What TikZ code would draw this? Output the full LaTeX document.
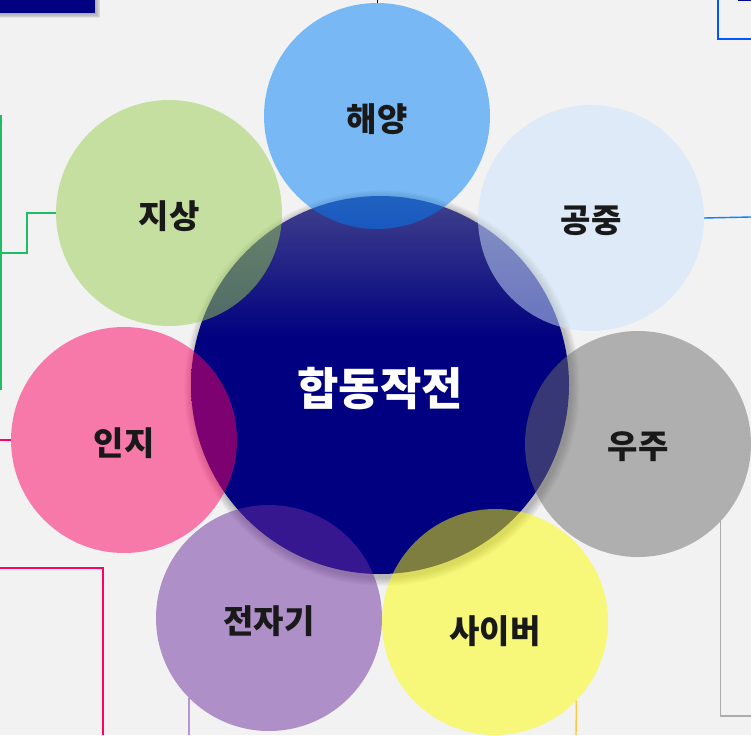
\documentclass[tikz,border=0pt]{standalone}
\usepackage{fontspec}
\newfontfamily\kr{Noto Sans CJK KR}
\definecolor{bg}{RGB}{242,242,242}
\definecolor{navyc}{RGB}{0,0,128}
\definecolor{navytop}{RGB}{66,66,140}
\definecolor{cblue}{RGB}{0,128,246}
\definecolor{clight}{RGB}{204,228,252}
\definecolor{cgreen}{RGB}{152,206,78}
\definecolor{cpink}{RGB}{252,2,100}
\definecolor{cpurple}{RGB}{110,46,158}
\definecolor{cyellow}{RGB}{252,252,2}
\definecolor{cgray}{RGB}{110,110,110}
\definecolor{lgreen}{RGB}{30,190,100}
\definecolor{lpink}{RGB}{255,0,102}
\definecolor{lblue}{RGB}{0,136,255}
\definecolor{lblue2}{RGB}{0,85,255}
\definecolor{lgray}{RGB}{172,172,172}
\definecolor{lpurple}{RGB}{150,100,200}
\definecolor{lyellow}{RGB}{255,200,60}
\pgfdeclareverticalshading{coreshade}{100bp}{color(0bp)=(navyc); color(56bp)=(navyc); color(75bp)=(navytop); color(100bp)=(navytop)}
\begin{document}
\begin{tikzpicture}[x=1pt,y=-1pt,
  petal/.style={circle,minimum size=226pt,inner sep=0pt,fill opacity=0.5},
  lbl/.style={font=\kr\bfseries\fontsize{33}{33}\selectfont,text=black!90,yshift=-3pt},
  link/.style={line width=1.4pt}]
\fill[bg] (0,0) rectangle (751,735);
\useasboundingbox (0,0) rectangle (751,735);
% top-left banner with shadow
\foreach \i in {1,...,6} \fill[black,opacity=0.05] (0,0) rectangle ({95+\i*0.9},{13+\i*0.9});
\node[fill=navyc,minimum width=95pt,minimum height=13pt,inner sep=0pt,anchor=north west] (banner) at (0,0) {};
% center shadow
\foreach \i in {1,...,8} \fill[black,opacity=0.03] (382,388) circle ({189+\i*1.1});
\node[circle,minimum size=378pt,inner sep=0pt,shading=coreshade] (core) at (380,385) {};
\node[font=\kr\bfseries\fontsize{45}{45}\selectfont,text=white] (coretext) at (380,389) {합동작전};
% petals
\node[petal,fill=cblue] (sea) at (377,116) {};
\node[petal,fill=clight] (air) at (591,218) {};
\node[petal,fill=cgray] (space) at (638,444) {};
\node[petal,fill=cyellow] (cyber) at (495,622) {};
\node[petal,fill=cpurple] (em) at (269,618) {};
\node[petal,fill=cpink] (cog) at (124,440) {};
\node[petal,fill=cgreen] (ground) at (169,213) {};
% labels
\node[lbl] (seaT) at (sea.center) {해양};
\node[lbl] (airT) at (air.center) {공중};
\node[lbl] (spaceT) at (space.center) {우주};
\node[lbl,yshift=-6pt] (cyberT) at (cyber.center) {사이버};
\node[lbl] (emT) at (em.center) {전자기};
\node[lbl] (cogT) at (cog.center) {인지};
\node[lbl] (groundT) at (ground.center) {지상};
% connector end points
\coordinate (top0) at (377,0);
\coordinate (gA) at (1,115);
\coordinate (gB) at (1,390);
\coordinate (gC) at (1,253);
\coordinate (pL) at (0,440);
\coordinate (pA) at (0,568);
\coordinate (pB) at (103,735);
\coordinate (aR) at (751,217);
\coordinate (sR) at (751,716);
\coordinate (eB) at (189,735);
\coordinate (cB) at (576,735);
\coordinate (tA) at (718,0);
\coordinate (tB) at (751,39);
\coordinate (tC) at (738,1);
\coordinate (tD) at (751,1);
% connectors
\draw[black,line width=0.6pt] (sea.north) -- (top0);
\draw[link,lgreen] (gA) -- (gB);
\draw[link,lgreen] (ground.west) -- ++(-29,0) |- (gC);
\draw[link,lpink] (cog.west) -- (pL);
\draw[link,lpink,line width=2pt] (pA) -| (pB);
\draw[link,lblue] (air.east) -- (aR);
\draw[link,lgray] (space.-43.5) |- (sR);
\draw[link,lpurple] (em.-135) -- (eB);
\draw[link,lyellow] (cyber.-44) -- (cB);
\draw[lblue2,line width=2.5pt] (tA) |- (tB);
\draw[navyc!80!blue,line width=1pt] (tC) -- (tD);
\end{tikzpicture}
\end{document}
